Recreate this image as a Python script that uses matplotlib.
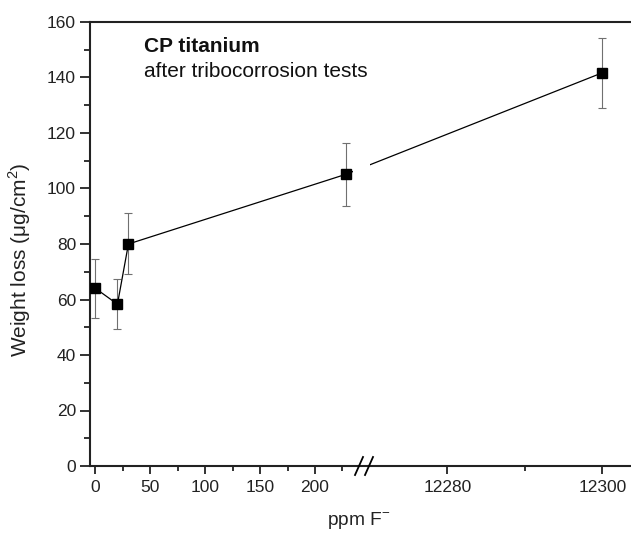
import numpy as np
import matplotlib
matplotlib.use("Agg")
import matplotlib.pyplot as plt
from matplotlib import transforms
from matplotlib.patches import Rectangle
from matplotlib.ticker import FixedLocator, NullFormatter

plt.rcParams['font.family'] = ['Liberation Sans', 'DejaVu Sans']

# data
ppm = [0, 20, 30, 228, 12300]
weight_loss = [64.0, 58.3, 80.0, 105.1, 141.7]
err_up = [10.5, 9.0, 11.0, 11.4, 12.6]
err_dn = [10.6, 8.9, 10.8, 11.5, 12.8]
major_ticks = [0, 50, 100, 150, 200, 12280, 12300]
minor_ticks = [25, 75, 125, 175, 225, 12290]
y_major = list(range(0, 161, 20))
y_minor = list(range(10, 161, 20))

# broken-axis scale
L = 242.8      # last value shown on the low side
R = 12269.0    # first value shown on the high side
K = 7.062      # stretch of the high side
G = 0.001      # width of the break in scale units


def fwd(x):
    x = np.asarray(x, dtype=float)
    mid = L + (x - L) / (R - L) * G
    hi = L + G + (x - R) * K
    return np.where(x <= L, x, np.where(x >= R, hi, mid))


def inv(y):
    y = np.asarray(y, dtype=float)
    mid = L + (y - L) / G * (R - L)
    hi = R + (y - L - G) / K
    return np.where(y <= L, y, np.where(y >= L + G, hi, mid))


fig = plt.figure(figsize=(6.31, 5.35), dpi=100)
ax = fig.add_axes([90 / 631, 1 - 466 / 535, 541 / 631, 444 / 535])
ax.set_xscale('function', functions=(fwd, inv))
ax.set_xlim(-5, 12303.7)
ax.set_ylim(0, 160)

ax.errorbar(ppm, weight_loss, yerr=[err_dn, err_up], fmt='none',
            ecolor='#707070', elinewidth=0.8, capsize=3, capthick=0.8, zorder=1)
ax.plot(ppm, weight_loss, color='black', lw=0.9, marker='s', ms=6.5,
        mfc='black', mec='black', zorder=3)

# white band at the break
blend = transforms.blended_transform_factory(ax.transData, ax.transAxes)
band = Rectangle((235, 0.004), 12270 - 235, 0.992, transform=blend,
                 facecolor='white', edgecolor='none', zorder=3.5)
ax.add_patch(band)

# break marks //
for dx in (-7, 3):
    t0 = transforms.offset_copy(blend, fig=fig, x=dx, y=-9, units='dots')
    t1 = transforms.offset_copy(blend, fig=fig, x=dx + 8, y=9, units='dots')
    p0 = t0.transform((L, 0))
    p1 = t1.transform((L, 0))
    fig.add_artist(plt.Line2D([p0[0] / fig.bbox.width, p1[0] / fig.bbox.width],
                              [p0[1] / fig.bbox.height, p1[1] / fig.bbox.height],
                              color='black', lw=1.3, transform=fig.transFigure))

ax.xaxis.set_major_locator(FixedLocator(major_ticks))
ax.xaxis.set_minor_locator(FixedLocator(minor_ticks))
ax.set_xticklabels([str(t) for t in major_ticks])
ax.xaxis.set_minor_formatter(NullFormatter())
ax.yaxis.set_major_locator(FixedLocator(y_major))
ax.yaxis.set_minor_locator(FixedLocator(y_minor))

ax.spines['right'].set_visible(False)
for s in ('left', 'bottom', 'top'):
    ax.spines[s].set_linewidth(1.5)
    ax.spines[s].set_color('#222222')
ax.tick_params(which='major', direction='out', width=1.3,
               labelsize=12.5, colors='#222222')
ax.tick_params(axis='x', which='major', length=6, pad=4)
ax.tick_params(axis='y', which='major', length=7, pad=3)
ax.tick_params(axis='x', which='minor', direction='out', length=3.5, width=1.3, colors='#222222')
ax.tick_params(axis='y', which='minor', direction='out', length=4, width=1.3, colors='#222222')
ax.tick_params(top=False, right=False)

ax.set_xlabel('ppm F$^{\\mathregular{-}}$', fontsize=13.8, color='#222222')
ax.xaxis.set_label_coords(0.497, -0.10)
ax.set_ylabel('Weight loss (\u03bcg/cm$^{\\mathregular{2}}$)', fontsize=15, color='#222222')
ax.yaxis.set_label_coords(-0.105, 0.464)

ax.text(0.10, 0.932, 'CP titanium', transform=ax.transAxes, fontsize=15,
        fontweight='bold', color='#111111', zorder=6)
ax.text(0.10, 0.876, 'after tribocorrosion tests', transform=ax.transAxes,
        fontsize=15, color='#111111', zorder=6)

fig.savefig('out.png', dpi=100)
